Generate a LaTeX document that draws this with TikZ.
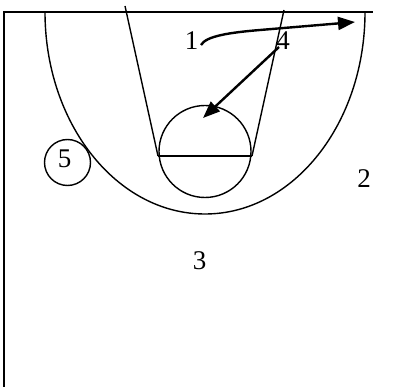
\documentclass[tikz,border=0pt]{standalone}
\usepackage{fontspec}
\setmainfont{Liberation Serif}
\usetikzlibrary{arrows.meta}
\begin{document}
\begin{tikzpicture}[x=1pt,y=-1pt,
  court/.style={line width=1.4pt, black},
  move/.style={line width=2.4pt, black, -{Triangle[length=17pt,width=13pt]}},
  lbl/.style={inner sep=0pt, font=\fontsize{27}{27}\selectfont},
  player/.style={circle, draw, line width=1.4pt, minimum size=46pt, inner sep=0pt}]
\useasboundingbox (0,0) rectangle (401,387);
% court outline
\draw[line width=2pt] (4,12) -- (4,388);
\draw[court] (3,12) -- (373,12);
\draw[line width=2.4pt] (37,12) -- (72,12);
\draw[line width=2.2pt] (350,12) -- (373,12);
% three point arc (lower half ellipse)
\draw[court] (45,12) arc[start angle=180, end angle=0, x radius=160, y radius=202];
% lane
\draw[court] (125,6) -- (158,156);
\draw[court] (284,10) -- (252,156);
\draw[court] (158,156) -- (252,156);
% free throw circle
\draw[court] (205,151.5) circle[radius=46];
% players
\node[lbl] (n1) at (191.5,41) {1};
\node[lbl] (n4) at (283,41) {4};
\node[lbl] (n2) at (364,179) {2};
\node[lbl] (n3) at (199.5,261) {3};
\node[player] (p5) at (67.5,162.5) {};
\node[lbl] (n5) at (64.5,158.5) {5};
% movement
\coordinate (a1s) at (201,45);
\coordinate (a1e) at (355,22);
\coordinate (a4s) at (279,47);
\coordinate (a4e) at (203,118);
\draw[move] (a1s) .. controls (206,36) and (230,32.5) .. (260,30) -- (a1e);
\draw[move] (a4s) -- (a4e);
\end{tikzpicture}
\end{document}
